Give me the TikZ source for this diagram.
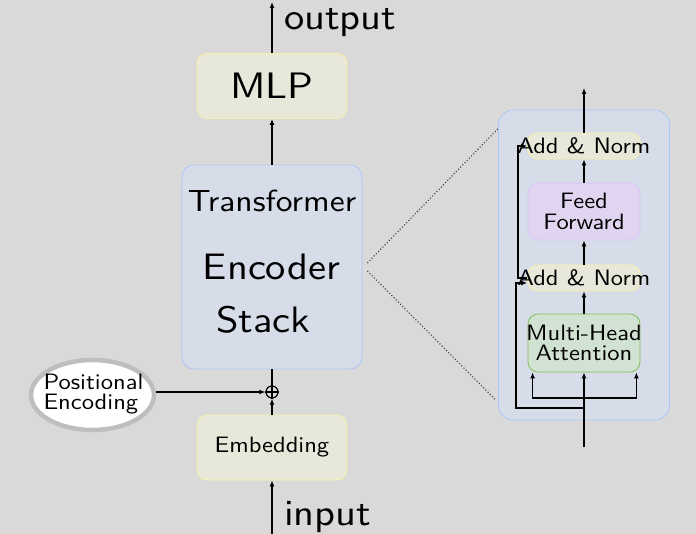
\documentclass[tikz,border=0pt]{standalone}
\usepackage{fontspec}
\setsansfont{lmsans10-regular.otf}[FakeStretch=1.1]
\usetikzlibrary{arrows.meta,positioning,shapes.geometric}

\definecolor{bggray}{RGB}{217,217,217}
\definecolor{beigefill}{RGB}{232,232,218}
\definecolor{beigeline}{RGB}{245,240,170}
\definecolor{bluefill}{RGB}{214,220,232}
\definecolor{blueline}{RGB}{170,200,245}
\definecolor{purplefill}{RGB}{225,212,240}
\definecolor{purpleline}{RGB}{215,200,245}
\definecolor{greenfill}{RGB}{210,226,210}
\definecolor{greenline}{RGB}{130,190,90}
\definecolor{ringgray}{RGB}{190,190,190}

\tikzset{
  smalltext/.style={font=\sffamily\fontsize{22.3}{20.5}\selectfont},
  bigtext/.style={font=\sffamily\fontsize{36.8}{39}\selectfont},
  box/.style={rounded corners=10pt, line width=0.8pt, inner sep=0pt},
  beigebox/.style={box, draw=beigeline, fill=beigefill},
  bluebox/.style={box, draw=blueline, fill=bluefill},
  purplebox/.style={box, draw=purpleline, fill=purplefill},
  greenbox/.style={box, draw=greenline, fill=greenfill},
  flow/.style={line width=1.3pt, -{Latex[length=6pt,width=5pt]}},
  wire/.style={line width=1.3pt}
}

\begin{document}
\begin{tikzpicture}[x=1pt,y=-1pt, smalltext]
%Background and size of the page
\fill[bggray] (0,0) rectangle (696,534);
\useasboundingbox (0,0) rectangle (696,534);

%Main column
\node[beigebox, minimum width=150pt, minimum height=65pt, bigtext] (mlp) at (272,86) {MLP};
\node[bluebox, rounded corners=12pt, minimum width=180pt, minimum height=204pt] (encoder) at (272,267) {};
\node[anchor=base, font=\sffamily\fontsize{30.5}{32}\selectfont] (trlabel) at (272,212) {Transformer};
\node[anchor=base, bigtext] (enclabel) at (271.5,280) {Encoder};
\node[anchor=base, bigtext] (stacklabel) at (263.5,333) {Stack};
\node[beigebox, minimum width=150pt, minimum height=65pt] (embed) at (272,447.5) {Embedding};

%Adding the positional encoding
\node[circle, draw, line width=1.2pt, inner sep=0pt, minimum size=12pt] (plus) at (272,392) {};
\draw[line width=1.2pt] (plus.north) -- (plus.south) (plus.west) -- (plus.east);
\node[ellipse, draw=ringgray, fill=white, line width=4.5pt, minimum width=123pt,
  minimum height=70pt, inner sep=0pt] (posenc) at (92.5,395) {};
\node[align=left, inner sep=0pt] (poslabel) at (93.5,394) {Positional\\Encoding};

%Free ends of the input and output arrows
\coordinate (out) at (272,2);
\coordinate (in) at (272,534);
\node[anchor=base west, bigtext, inner sep=0pt] (outlabel) at (284,30) {output};
\node[anchor=base west, bigtext, inner sep=0pt] (inlabel) at (284,525) {input};

\draw[flow] (in) -- (embed.south);
\draw[flow] (embed.north) -- (plus.south);
\draw[flow] (posenc.east |- plus.west) -- (plus.west);
\draw[wire] (plus.north) -- (encoder.south);
\draw[flow] (encoder.north) -- (mlp.south);
\draw[flow] (mlp.north) -- (out);

%One encoder layer
\node[bluebox, rounded corners=15pt, minimum width=171pt, minimum height=310pt] (layer) at (584,265) {};
\draw[dotted, line width=1.1pt, black!75] ([xshift=5pt,yshift=4pt]encoder.east) -- ([yshift=-19pt]layer.north west);
\draw[dotted, line width=1.1pt, black!75] ([xshift=5pt,yshift=-4pt]encoder.east) -- ([xshift=-2pt,yshift=20pt]layer.south west);

\node[beigebox, minimum width=113pt, minimum height=26pt] (addnormB) at (584,146) {\makebox[0pt]{Add \& Norm}};
\node[purplebox, minimum width=112pt, minimum height=57pt, align=center] (ff) at (584,211.5) {Feed\\Forward};
\node[beigebox, minimum width=113pt, minimum height=26pt] (addnormA) at (584,278) {\makebox[0pt]{Add \& Norm}};
\node[greenbox, minimum width=112pt, minimum height=58pt, align=center] (mha) at (584,343) {\makebox[0pt]{Multi-Head}\\Attention};

\coordinate (top) at (584,88);
\coordinate (lin) at (584,447);
\coordinate (split) at (584,398);
\coordinate (res) at (584,408);

\draw[flow] (lin) -- (mha.south);
\draw[flow] (split) -| ([xshift=5pt]mha.south west);
\draw[flow] (split) -| ([xshift=-4pt]mha.south east);
\draw[flow] (mha.north) -- (addnormA.south);
\draw[flow] (addnormA.north) -- (ff.south);
\draw[flow] (ff.north) -- (addnormB.south);
\draw[flow] (addnormB.north) -- (top);

%Residual connections
\draw[flow] (res) -| ([xshift=-11pt,yshift=-5pt]addnormA.west) -- ([yshift=-5pt]addnormA.west);
\draw[flow] (addnormA.west) -- ++(-9,0) |- (addnormB.west);
\end{tikzpicture}
\end{document}
